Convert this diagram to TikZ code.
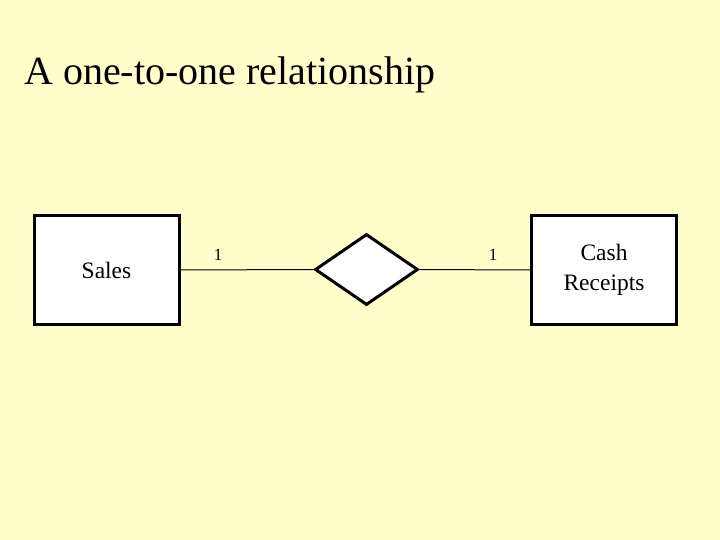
\documentclass[tikz,border=0pt]{standalone}
\usepackage{fontspec}
\setmainfont{Liberation Serif}
\usetikzlibrary{shapes.geometric}
\definecolor{slidebg}{HTML}{FFFFCC}
\tikzset{
  entity/.style={draw, fill=white, line width=3pt, minimum width=145pt, minimum height=108pt,
    align=center, font=\fontsize{23.5}{29}\selectfont, inner sep=0pt},
  relation/.style={draw, diamond, fill=white, line width=3pt, minimum width=103pt,
    minimum height=71pt, inner sep=0pt},
  card/.style={font=\fontsize{17}{18}\selectfont, inner sep=0pt}
}
\begin{document}
\begin{tikzpicture}[x=1pt, y=-1pt]
  \fill[slidebg] (0,0) rectangle (720,540);
  \useasboundingbox (0,0) rectangle (720,540);
  %title
  \node[anchor=base west, font=\fontsize{40}{44}\selectfont, inner sep=0pt] (title) at (24,85) {A one-to-one relationship};
  %entities
  \node[entity] (sales) at (106.5,270) {Sales};
  \node[entity] (cash) at (604,270) {Cash\\[1pt]Receipts};
  \node[relation] (rel) at (366.5,269.5) {};
  %connectors
  \draw[line width=1pt] (sales.east) -- (rel.west);
  \draw[line width=1pt] (rel.east) -- (cash.west);
  %cardinalities
  \node[card] (cardsales) at (218,255) {1};
  \node[card] (cardcash) at (493,255) {1};
\end{tikzpicture}
\end{document}
